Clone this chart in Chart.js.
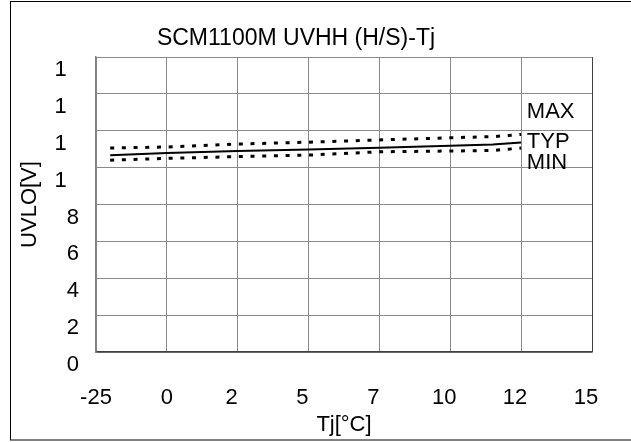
<!DOCTYPE html>
<html>
<head>
<meta charset="utf-8">
<script src="https://cdn.jsdelivr.net/npm/chart.js@4/dist/chart.umd.min.js"></script>
<style>
html,body{margin:0;padding:0;background:#fff;}
#wrap{position:relative;width:631px;height:442px;}
</style>
</head>
<body>
<div id="wrap"><canvas id="c" width="631" height="442"></canvas></div>
<script>
// ---- data ----
const chartTitle = 'SCM1100M UVHH (H/S)-Tj';
const xTitle = 'Tj[°C]';
const yTitle = 'UVLO[V]';
const tempC = [-20, 0, 25, 50, 75, 100, 115, 125];
const maxV  = [11.06, 11.12, 11.28, 11.38, 11.50, 11.62, 11.68, 11.80];
const typV  = [10.67, 10.79, 10.90, 10.98, 11.08, 11.18, 11.25, 11.36];
const minV  = [10.40, 10.50, 10.60, 10.68, 10.86, 10.90, 10.93, 11.06];
const xTickValues = [-25, 0, 25, 50, 75, 100, 125, 150];
const xTickLabels = ['-25', '0', '2', '5', '7', '10', '12', '15'];
const yTickValues = [0, 2, 4, 6, 8, 10, 12, 14, 16];
const yTickLabels = ['0', '2', '4', '6', '8', '1', '1', '1', '1'];
const seriesNames = ['MAX', 'TYP', 'MIN'];
const seriesNameY = [13.0, 11.4, 10.25];
const seriesNameX = 127;

const FONT = 'Liberation Sans, Arial, sans-serif';
Chart.defaults.color = '#000';
Chart.defaults.font.family = FONT;

const pts = (ys) => tempC.map((x, i) => ({x, y: ys[i]}));
const pad = (full, shown) => shown + '\u2007'.repeat(Math.max(0, String(full).length - shown.length));

const framePlugin = {
  id: 'frame',
  beforeDraw(chart) {
    const ctx = chart.ctx;
    ctx.save();
    ctx.fillStyle = '#fff';
    ctx.fillRect(0, 0, chart.width, chart.height);
    ctx.strokeStyle = '#000';
    ctx.lineWidth = 1;
    ctx.strokeRect(10.5, 1.5, 640, 438.5);
    ctx.restore();
  },
  afterDatasetsDraw(chart) {
    const ctx = chart.ctx;
    const xs = chart.scales.x, ys = chart.scales.y;
    ctx.save();
    ctx.font = '22px ' + FONT;
    ctx.fillStyle = '#000';
    ctx.textAlign = 'left';
    ctx.textBaseline = 'middle';
    seriesNames.forEach((n, i) => {
      ctx.fillText(n, xs.getPixelForValue(seriesNameX), ys.getPixelForValue(seriesNameY[i]));
    });
    ctx.restore();
  }
};

const dotted = {borderColor: '#000', borderWidth: 3, borderDash: [4, 7.7], pointRadius: 0, tension: 0, fill: false};

new Chart(document.getElementById('c'), {
  type: 'line',
  data: {
    datasets: [
      Object.assign({label: seriesNames[0], data: pts(maxV)}, dotted),
      {label: seriesNames[1], data: pts(typV), borderColor: '#000', borderWidth: 2, pointRadius: 0, tension: 0, fill: false},
      Object.assign({label: seriesNames[2], data: pts(minV)}, dotted)
    ]
  },
  plugins: [framePlugin],
  options: {
    responsive: false,
    animation: false,
    layout: {padding: {left: 0, right: 39, top: 0, bottom: 0}},
    plugins: {
      legend: {display: false},
      tooltip: {enabled: false},
      title: {
        display: true,
        text: chartTitle,
        color: '#000',
        font: {size: 23, weight: 'normal', family: FONT},
        padding: {top: 25, bottom: 4.4}
      }
    },
    scales: {
      x: {
        type: 'linear',
        min: -25, max: 150,
        afterBuildTicks: (s) => { s.ticks = xTickValues.map(v => ({value: v})); },
        afterFit: (s) => { s.height = 90; s.paddingLeft = 0; s.paddingRight = 0; },
        ticks: {
          autoSkip: false, maxRotation: 0, padding: 33,
          font: {size: 22, family: FONT}, color: '#000',
          callback: (v, i) => pad(v, xTickLabels[i])
        },
        grid: {
          drawTicks: false, lineWidth: 1,
          color: (c) => (c.tick && c.tick.value === 150) ? '#404040' : '#8a8a8a'
        },
        border: {color: '#404040', width: 1.5},
        title: {display: true, text: xTitle, font: {size: 22, family: FONT}, color: '#000', padding: {top: 0, bottom: 4}}
      },
      y: {
        type: 'linear',
        min: 0, max: 16,
        afterBuildTicks: (s) => { s.ticks = yTickValues.map(v => ({value: v})); },
        afterFit: (s) => { s.width = 96; s.paddingTop = 0; s.paddingBottom = 0; },
        ticks: {
          autoSkip: false, padding: 17, labelOffset: 13,
          font: {size: 22, family: FONT}, color: '#000',
          callback: (v, i) => pad(v, yTickLabels[i])
        },
        grid: {drawTicks: false, lineWidth: 1, color: '#8a8a8a'},
        border: {color: '#808080', width: 1.5},
        title: {display: true, text: yTitle, font: {size: 22, family: FONT}, color: '#000', padding: {top: 17, bottom: 0}}
      }
    }
  }
});
</script>
</body>
</html>
